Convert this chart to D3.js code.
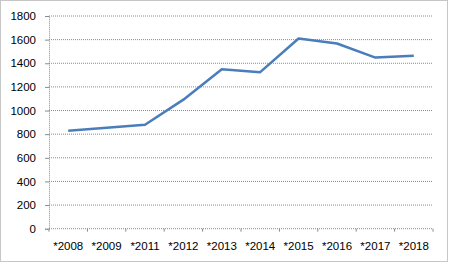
<!DOCTYPE html>
<html>
<head>
<meta charset="utf-8">
<script src="https://cdn.jsdelivr.net/npm/d3@7"></script>
<style>
	body{margin:0;background:#fff;}
	text{font-family:"Liberation Sans",Arial,sans-serif;font-size:11.5px;fill:#000;}
</style>
</head>
<body>
<svg id="myGraph" width="449" height="263"></svg>
<script>
var years=["*2008","*2009","*2011","*2012","*2013","*2014","*2015","*2016","*2017","*2018"];
var values=[828,855,880,1092,1350,1325,1610,1567,1448,1464];
var yTicks=[0,200,400,600,800,1000,1200,1400,1600,1800];

var svg=d3.select("#myGraph");
var plotLeft=49,plotRight=433,plotTop=16,plotBottom=228.7;

// outer dotted frame
svg.append("rect")
	.attr("x",0.5).attr("y",0.5).attr("width",447).attr("height",261)
	.attr("fill","none").attr("stroke","#8c8c8c").attr("stroke-dasharray","1,1");

var x=d3.scaleBand().domain(years).range([plotLeft,plotRight]);
var y=d3.scaleLinear().domain([0,1800]).range([plotBottom,plotTop]);

// gridlines
svg.append("g")
	.selectAll("line")
	.data(yTicks)
	.enter()
	.append("line")
	.attr("x1",plotLeft).attr("x2",plotRight)
	.attr("y1",function(d){return y(d);})
	.attr("y2",function(d){return y(d);})
	.attr("stroke","#8a8a8a")
	.attr("stroke-dasharray","1,1");

// y axis
var yAxis=svg.append("g")
	.attr("transform","translate("+plotLeft+",0)")
	.call(d3.axisLeft(y).tickValues(yTicks).tickSize(4).tickPadding(9).tickFormat(d3.format("d")));
yAxis.select(".domain").attr("stroke","#8a8a8a").attr("stroke-dasharray","1,1");
yAxis.selectAll(".tick line").attr("stroke","#8a8a8a");
yAxis.selectAll("text").attr("font-family",null).attr("font-size",null);

// x axis
var xAxis=svg.append("g")
	.attr("transform","translate(0,"+plotBottom+")")
	.call(d3.axisBottom(x).tickSize(0).tickPadding(13));
xAxis.select(".domain").remove();
xAxis.selectAll("text").attr("font-family",null).attr("font-size",null);
xAxis.append("g")
	.selectAll("line")
	.data(years.concat(["end"]))
	.enter()
	.append("line")
	.attr("x1",function(d,i){return plotLeft+i*x.bandwidth();})
	.attr("x2",function(d,i){return plotLeft+i*x.bandwidth();})
	.attr("y1",0).attr("y2",3)
	.attr("stroke","#8a8a8a");

// data line
var line=d3.line()
	.x(function(d,i){return x(years[i])+x.bandwidth()/2;})
	.y(function(d){return y(d);});

svg.append("path")
	.datum(values)
	.attr("d",line)
	.attr("fill","none")
	.attr("stroke","#4a7ebb")
	.attr("stroke-width",2.5)
	.attr("stroke-linejoin","round");
</script>
</body>
</html>
